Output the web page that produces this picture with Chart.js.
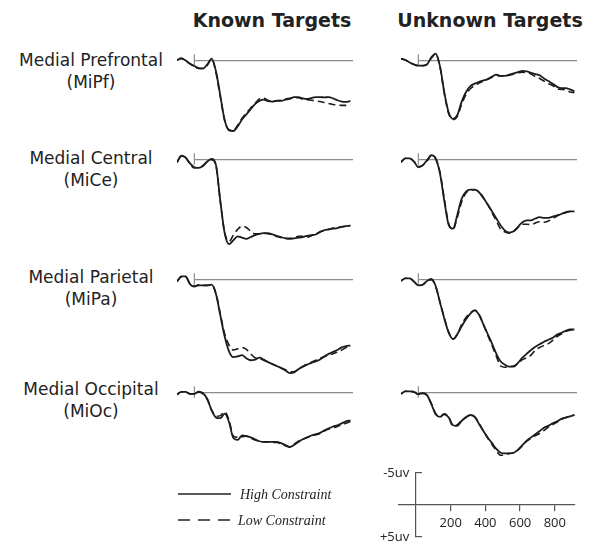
<!DOCTYPE html>
<html>
<head>
<meta charset="utf-8">
<script src="https://cdn.jsdelivr.net/npm/chart.js@4"></script>
<style>
body { margin: 0; background: #fff; width: 601px; height: 551px; position: relative; overflow: hidden; font-family: "DejaVu Sans", sans-serif; color: #222; }
canvas { position: absolute; }
.titulo { position: absolute; top: 8px; width: 240px; text-align: center; font-weight: bold; font-size: 19px; line-height: 24px; }
.sitio { position: absolute; left: 0; width: 182px; text-align: center; font-size: 17px; line-height: 22px; }
</style>
</head>
<body>

<div class="titulo" style="left:152px">Known Targets</div>
<div class="titulo" style="left:370px">Unknown Targets</div>

<div class="sitio" style="top:49px">Medial Prefrontal<br>(MiPf)</div>
<div class="sitio" style="top:147px">Medial Central<br>(MiCe)</div>
<div class="sitio" style="top:266px">Medial Parietal<br>(MiPa)</div>
<div class="sitio" style="top:378px">Medial Occipital<br>(MiOc)</div>

<canvas id="mipfKnown" width="176" height="128" style="left:177px;top:35px"></canvas>
<canvas id="mipfUnknown" width="176" height="128" style="left:401px;top:35px"></canvas>
<canvas id="miceKnown" width="176" height="128" style="left:177px;top:134px"></canvas>
<canvas id="miceUnknown" width="176" height="128" style="left:401px;top:134px"></canvas>
<canvas id="mipaKnown" width="176" height="128" style="left:177px;top:254px"></canvas>
<canvas id="mipaUnknown" width="176" height="128" style="left:401px;top:254px"></canvas>
<canvas id="miocKnown" width="176" height="128" style="left:177px;top:367px"></canvas>
<canvas id="miocUnknown" width="176" height="128" style="left:401px;top:367px"></canvas>
<canvas id="escala" width="260" height="122" style="left:340px;top:444px"></canvas>

<svg width="180" height="50" style="position:absolute;left:170px;top:480px">
  <line x1="8" y1="14" x2="61" y2="14" stroke="#222" stroke-width="1.4"/>
  <line x1="8" y1="40" x2="62" y2="40" stroke="#222" stroke-width="1.4" stroke-dasharray="12,8"/>
  <text x="70" y="19" font-family="Liberation Serif, serif" font-style="italic" font-size="14" fill="#222">High Constraint</text>
  <text x="68" y="45" font-family="Liberation Serif, serif" font-style="italic" font-size="14" fill="#222">Low Constraint</text>
</svg>

<script>
// tiempo (ms) de cada muestra
const times = [-100, -75, -50, -25, 0, 25, 50, 75, 100, 125, 150, 175, 200, 225, 250, 275, 300, 325, 350, 375,
               400, 425, 450, 475, 500, 525, 550, 575, 600, 625, 650, 675, 700, 725, 750, 775, 800, 825, 850, 875, 900];

// amplitudes en uV (positivo hacia abajo)
const mipfKnownHigh = [-0.05, -0.4, 0, 0.5, 0.85, 1.2, 1.25, 0.6, -0.3, 1.7, 5.5, 9.3, 10.9, 11.0, 10.3, 9.2, 8.4, 7.6, 6.8, 6.3,
                       6.1, 6.35, 6.4, 6.25, 6.3, 6.1, 6.0, 5.7, 5.7, 5.9, 6.0, 5.85, 5.7, 5.7, 5.75, 5.7, 5.9, 6.2, 6.4, 6.45, 6.3];
const mipfKnownLow = [-0.05, -0.3, 0.05, 0.5, 0.9, 1.2, 1.2, 0.7, -0.2, 1.9, 5.7, 9.4, 10.8, 10.9, 10.1, 9.0, 8.2, 7.4, 6.7, 6.0,
                      5.9, 6.2, 6.4, 6.3, 6.2, 6.0, 5.9, 5.8, 5.8, 6.0, 6.1, 6.2, 6.3, 6.4, 6.55, 6.7, 6.85, 6.95, 7.0, 7.0, 6.9];
const mipfUnknownHigh = [-0.3, -0.1, 0.3, 0.6, 0.8, 0.8, 0.6, -0.5, -1.1, 0.9, 5.0, 8.1, 9.1, 8.5, 6.4, 4.9, 4.0, 3.6, 3.3, 3.1,
                         2.9, 2.5, 2.2, 2.4, 2.4, 2.2, 2.0, 1.8, 1.6, 1.7, 1.9, 2.1, 2.3, 2.8, 3.2, 3.6, 4.1, 4.3, 4.3, 4.5, 4.8];
const mipfUnknownLow = [-0.3, -0.1, 0.3, 0.6, 0.8, 0.8, 0.6, -0.4, -1.0, 1.0, 5.2, 8.3, 9.2, 8.7, 6.8, 5.3, 4.4, 3.9, 3.5, 3.2,
                        2.9, 2.6, 2.3, 2.4, 2.4, 2.3, 2.1, 1.9, 1.8, 1.9, 2.1, 2.5, 2.8, 3.2, 3.6, 3.9, 4.4, 4.5, 4.6, 4.9, 5.0];

const miceKnownHigh = [0.4, -0.6, -0.3, 0.6, 1.2, 1.3, 1.0, 0.3, -0.1, 0.9, 6.5, 11.5, 13.2, 12.6, 12.0, 12.2, 12.4, 12.1, 11.8, 11.6,
                       11.5, 11.5, 11.7, 11.9, 12.1, 12.3, 12.4, 12.3, 12.2, 12.1, 11.9, 11.8, 11.7, 11.3, 11.0, 10.9, 10.8, 10.7, 10.5, 10.4, 10.3];
const miceKnownLow = [0.4, -0.5, -0.3, 0.7, 1.3, 1.2, 0.9, 0.3, 0.0, 1.0, 6.6, 11.4, 12.8, 11.8, 10.9, 10.4, 10.6, 11.2, 11.6, 11.6,
                      11.5, 11.6, 11.8, 12.0, 12.2, 12.3, 12.3, 12.2, 12.0, 12.0, 12.1, 11.9, 11.6, 11.3, 11.1, 10.9, 10.7, 10.6, 10.5, 10.4, 10.3];
const miceUnknownHigh = [0.4, -0.2, -0.2, 0.3, 1.2, 0.9, 0.1, -0.7, -0.2, 2.2, 6.5, 10.2, 10.8, 8.6, 6.1, 5.0, 4.7, 4.7, 5.1, 6.0,
                         7.0, 8.1, 9.2, 10.3, 11.1, 11.4, 11.2, 10.5, 9.8, 9.5, 9.5, 9.2, 9.0, 9.1, 9.1, 8.9, 8.7, 8.5, 8.2, 8.1, 8.1];
const miceUnknownLow = [0.4, -0.2, -0.2, 0.3, 1.1, 0.9, 0.2, -0.6, -0.1, 2.0, 6.2, 10.0, 10.9, 9.0, 6.6, 5.2, 4.8, 4.7, 5.0, 5.9,
                        7.0, 8.3, 9.6, 10.9, 11.3, 11.5, 11.2, 10.6, 10.1, 10.1, 10.2, 9.9, 9.7, 9.8, 9.6, 9.2, 8.8, 8.5, 8.3, 8.1, 8.1];

const mipaKnownHigh = [0.3, -0.5, -0.5, 0.7, 1.1, 0.9, 0.9, 0.9, 0.8, 2.3, 5.6, 8.9, 11.2, 12.1, 12.0, 11.8, 12.3, 12.6, 12.5, 12.2,
                       12.5, 12.9, 13.2, 13.5, 13.8, 14.2, 14.6, 14.5, 14.0, 13.6, 13.3, 13.0, 12.8, 12.5, 12.0, 11.6, 11.3, 11.0, 10.6, 10.4, 10.3];
const mipaKnownLow = [0.3, -0.4, -0.4, 0.7, 1.0, 0.8, 0.9, 0.9, 0.8, 2.2, 5.4, 8.5, 10.2, 11.0, 10.8, 10.6, 10.9, 11.6, 12.2, 12.3,
                      12.6, 12.9, 13.2, 13.5, 13.8, 14.1, 14.4, 14.4, 14.0, 13.6, 13.2, 12.9, 12.6, 12.3, 12.0, 11.8, 11.6, 11.3, 11.0, 10.6, 10.4];
const mipaUnknownHigh = [0.2, -0.2, -0.2, 0.3, 0.9, 0.8, 0.2, -0.1, 1.0, 3.6, 6.1, 8.3, 9.3, 8.5, 7.3, 6.2, 5.3, 4.8, 5.5, 7.0,
                         8.5, 10.0, 11.6, 12.8, 13.3, 13.6, 13.6, 13.0, 12.2, 11.6, 11.0, 10.5, 10.1, 9.7, 9.4, 9.1, 8.6, 8.3, 8.0, 7.8, 7.8];
const mipaUnknownLow = [0.2, -0.2, -0.2, 0.3, 0.9, 0.8, 0.3, 0.0, 1.1, 3.5, 6.0, 8.2, 9.3, 8.6, 7.0, 5.9, 5.2, 4.8, 5.4, 7.0,
                        8.7, 10.3, 12.0, 13.5, 13.7, 13.6, 13.5, 13.1, 12.5, 12.2, 11.8, 11.0, 10.6, 10.3, 10.0, 9.5, 8.9, 8.5, 8.1, 7.9, 7.8];

const miocKnownHigh = [0.3, -0.1, -0.1, 0.2, 0.2, -0.15, 0.1, 1.0, 2.8, 3.9, 4.0, 3.3, 4.6, 7.1, 7.4, 6.7, 6.8, 7.0, 7.3, 7.6,
                       7.7, 7.7, 7.7, 7.7, 7.9, 8.2, 8.5, 8.2, 7.7, 7.3, 7.0, 6.7, 6.5, 6.3, 5.9, 5.6, 5.3, 5.1, 4.8, 4.5, 4.35];
const miocKnownLow = [0.3, -0.1, -0.1, 0.2, 0.2, -0.1, 0.2, 1.1, 2.7, 3.7, 3.6, 3.0, 4.3, 6.8, 7.0, 6.9, 6.8, 7.1, 7.4, 7.6,
                      7.7, 7.7, 7.8, 7.8, 8.0, 8.3, 8.5, 8.1, 7.6, 7.3, 7.0, 6.8, 6.6, 6.4, 6.0, 5.7, 5.5, 5.3, 5.0, 4.8, 4.5];
const miocUnknownHigh = [0.2, -0.2, -0.2, -0.1, 0.25, 0.1, 0.4, 1.8, 3.4, 3.8, 3.4, 3.9, 5.1, 5.2, 4.4, 3.9, 3.5, 3.8, 4.9, 6.0,
                         7.0, 7.9, 8.8, 9.4, 9.5, 9.5, 9.4, 8.9, 8.2, 7.5, 7.0, 6.5, 6.0, 5.5, 5.2, 4.8, 4.5, 4.1, 3.9, 3.7, 3.5];
const miocUnknownLow = [0.2, -0.2, -0.2, -0.1, 0.25, 0.1, 0.4, 1.7, 3.3, 3.7, 3.3, 3.8, 5.3, 5.0, 4.3, 3.8, 3.5, 3.8, 4.8, 6.0,
                        7.1, 8.1, 9.1, 9.8, 9.7, 9.5, 9.4, 9.0, 8.3, 7.6, 7.1, 6.7, 6.4, 5.9, 5.4, 5.0, 4.6, 4.2, 3.9, 3.7, 3.5];

// barra de escala
const scaleTicksMs = [200, 400, 600, 800];
const scaleTicksUv = [-5, 5];
const scaleTickLabels = ['-5uv  ', '+5uv  '];

const onsetTick = [-1, 0.8];   // marca vertical en t = 0 (uV)
const timeMin = -100;
const timeMax = 915;

// linea base gris y marca del estimulo
const lineaBase = {
    id: 'lineaBase',
    beforeDatasetsDraw(chart) {
        const { ctx, scales: { x, y } } = chart;
        ctx.save();
        ctx.strokeStyle = '#8c8c8c';
        ctx.lineWidth = 1.2;
        ctx.beginPath();
        ctx.moveTo(x.getPixelForValue(0), y.getPixelForValue(0));
        ctx.lineTo(x.getPixelForValue(timeMax), y.getPixelForValue(0));
        ctx.moveTo(x.getPixelForValue(0), y.getPixelForValue(onsetTick[0]));
        ctx.lineTo(x.getPixelForValue(0), y.getPixelForValue(onsetTick[1]));
        ctx.stroke();
        ctx.restore();
    }
};

function dibujarPanel(id, alta, baja) {
    new Chart(document.getElementById(id), {
        type: 'line',
        data: {
            labels: times,
            datasets: [
                {
                    label: 'High Constraint',
                    data: alta,
                    borderColor: '#1c1c1c',
                    borderWidth: 1.8,
                    pointRadius: 0,
                    cubicInterpolationMode: 'monotone'
                },
                {
                    label: 'Low Constraint',
                    data: baja,
                    borderColor: '#1c1c1c',
                    borderWidth: 1.6,
                    borderDash: [7, 4],
                    pointRadius: 0,
                    cubicInterpolationMode: 'monotone'
                }
            ]
        },
        options: {
            responsive: false,
            animation: false,
            events: [],
            layout: { padding: 0 },
            plugins: { legend: { display: false }, tooltip: { enabled: false } },
            scales: {
                x: { type: 'linear', min: timeMin, max: timeMax, display: false },
                y: { type: 'linear', min: -4, max: 16, reverse: true, display: false }
            }
        },
        plugins: [lineaBase]
    });
}

dibujarPanel('mipfKnown', mipfKnownHigh, mipfKnownLow);
dibujarPanel('mipfUnknown', mipfUnknownHigh, mipfUnknownLow);
dibujarPanel('miceKnown', miceKnownHigh, miceKnownLow);
dibujarPanel('miceUnknown', miceUnknownHigh, miceUnknownLow);
dibujarPanel('mipaKnown', mipaKnownHigh, mipaKnownLow);
dibujarPanel('mipaUnknown', mipaUnknownHigh, mipaUnknownLow);
dibujarPanel('miocKnown', miocKnownHigh, miocKnownLow);
dibujarPanel('miocUnknown', miocUnknownHigh, miocUnknownLow);

// ejes de la barra de escala
new Chart(document.getElementById('escala'), {
    type: 'line',
    data: { labels: [], datasets: [] },
    options: {
        responsive: false,
        animation: false,
        events: [],
        layout: { padding: { left: 58.65, right: 25.25, top: 29, bottom: 29 } },
        plugins: { legend: { display: false }, tooltip: { enabled: false } },
        scales: {
            x: {
                type: 'linear', min: timeMin, max: timeMax,
                position: { y: 0 },
                afterBuildTicks: s => { s.ticks = scaleTicksMs.map(v => ({ value: v })); },
                grid: { drawOnChartArea: false, tickLength: 6, color: '#555', lineWidth: 1.2 },
                border: { color: '#555', width: 1.2 },
                ticks: { font: { family: 'Open Sans', size: 13 }, color: '#222', padding: 4, maxRotation: 0 }
            },
            y: {
                type: 'linear', min: -5, max: 5, reverse: true,
                position: { x: 0 },
                afterBuildTicks: s => { s.ticks = scaleTicksUv.map(v => ({ value: v })); },
                grid: { drawOnChartArea: false, tickLength: -7, color: '#555', lineWidth: 1.2 },
                border: { color: '#555', width: 1.2 },
                ticks: {
                    font: { family: 'Open Sans', size: 13 }, color: '#222', padding: 3,
                    callback: (v, i) => scaleTickLabels[i]
                }
            }
        }
    }
});
</script>
</body>
</html>
